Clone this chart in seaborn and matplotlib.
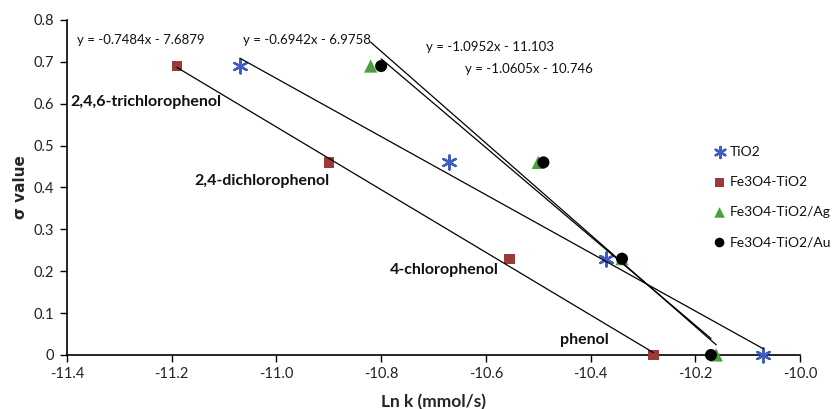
import matplotlib
matplotlib.use("Agg")
import matplotlib.pyplot as plt
import seaborn as sns
import numpy as np
import pandas as pd

sigma = [0.69, 0.46, 0.23, 0.0]
compounds = ["2,4,6-trichlorophenol", "2,4-dichlorophenol", "4-chlorophenol", "phenol"]

series_names = ["TiO2", "Fe3O4-TiO2", "Fe3O4-TiO2/Ag", "Fe3O4-TiO2/Au"]
lnk_tio2 = [-11.07, -10.67, -10.37, -10.07]
lnk_fe = [-11.19, -10.90, -10.555, -10.28]
lnk_ag = [-10.82, -10.50, -10.34, -10.16]
lnk_au = [-10.80, -10.49, -10.34, -10.17]

slopes = [-0.6942, -0.7484, -1.0952, -1.0605]
intercepts = [-6.9758, -7.6879, -11.103, -10.746]
eq_labels = ["y = -0.6942x - 6.9758", "y = -0.7484x - 7.6879",
             "y = -1.0952x - 11.103", "y = -1.0605x - 10.746"]

x_ticks = [-11.4, -11.2, -11.0, -10.8, -10.6, -10.4, -10.2, -10.0]
y_ticks = [0, 0.1, 0.2, 0.3, 0.4, 0.5, 0.6, 0.7, 0.8]
y_tick_labels = ["0", "0.1", "0.2", "0.3", "0.4", "0.5", "0.6", "0.7", "0.8"]

sns.set_style("white")
plt.rcParams['font.family'] = ['Lato', 'DejaVu Sans']

fig = plt.figure(figsize=(8.38, 4.09), dpi=100)
ax = fig.add_axes([67/838, 1-355/409, (800-67)/838, (355-20)/409])

colors = ["#3f5ec4", "#9a3b3a", "#4aa03f", "#000000"]
markers = [(6, 2, 0), "s", "^", "o"]
sizes = [100, 55, 90, 75]
data_x = [lnk_tio2, lnk_fe, lnk_ag, lnk_au]

df = pd.concat([pd.DataFrame({"lnk": xs, "sigma": sigma, "series": name})
                for xs, name in zip(data_x, series_names)], ignore_index=True)

for i, name in enumerate(series_names):
    sub = df[df["series"] == name]
    lw = 1.7 if i == 0 else 0
    sns.scatterplot(data=sub, x="lnk", y="sigma", ax=ax, marker=markers[i],
                    s=sizes[i], color=colors[i], edgecolor=colors[i] if i == 0 else "none",
                    linewidth=lw, label=name, zorder=3 + i, clip_on=False)

for xs, m, b in zip(data_x, slopes, intercepts):
    xr = np.array([min(xs), max(xs)])
    ax.plot(xr, m * xr + b, color="black", lw=0.9, zorder=10)

ax.set_xlim(-11.4, -10.0)
ax.set_ylim(0, 0.8)
ax.set_xticks(x_ticks)
ax.set_xticklabels([f"{t:.1f}" for t in x_ticks])
ax.set_yticks(y_ticks)
ax.set_yticklabels(y_tick_labels)
ax.tick_params(axis="both", direction="out", length=5, width=1, color="black",
               labelsize=10.5, labelcolor="#222222", bottom=True, left=True, pad=4)
for s in ["top", "right"]:
    ax.spines[s].set_visible(False)
for s in ["left", "bottom"]:
    ax.spines[s].set_color("black")
    ax.spines[s].set_linewidth(1.2)

ax.set_xlabel("Ln k (mmol/s)", fontsize=12.5, fontweight="bold", labelpad=9)
ax.set_ylabel("σ value", fontsize=11, fontweight="bold", labelpad=4,
              family=['DejaVu Sans'])

# equations
eq_pos = [(243, 40), (77, 40), (426, 47), (465, 69)]
for lab, (px, py) in zip(eq_labels, eq_pos):
    fig.text(px/838, 1-py/409, lab, fontsize=9.5, ha="left", va="center", color="#111111")

# compound labels
comp_pos = [(70, 102), (194, 181), (390, 270), (560, 340)]
for lab, (px, py) in zip(compounds, comp_pos):
    fig.text(px/838, 1-py/409, lab, fontsize=11.5, fontweight="bold", ha="left", va="center",
             color="#111111")

leg = ax.legend(loc="upper left", bbox_to_anchor=(714/838, 1-146/409),
                bbox_transform=fig.transFigure, frameon=False, fontsize=10,
                handlelength=0.8, handletextpad=0.3, labelspacing=1.3,
                markerscale=0.8, borderaxespad=0, borderpad=0)
for t in leg.get_texts():
    t.set_color("#111111")

fig.savefig("out.png", dpi=100)
